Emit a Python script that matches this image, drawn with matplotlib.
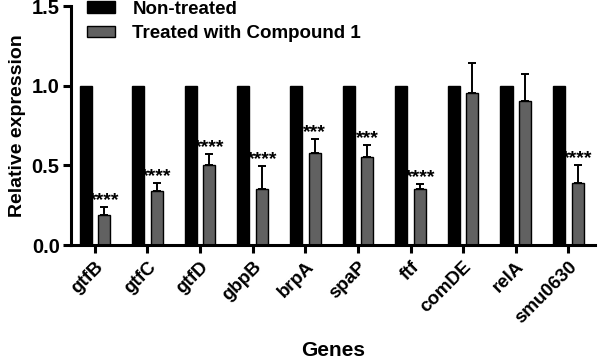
import matplotlib
matplotlib.use("Agg")
import matplotlib.pyplot as plt
import numpy as np

plt.rcParams['font.family'] = ['Liberation Sans', 'DejaVu Sans']
plt.rcParams['font.weight'] = 'bold'

genes = ['gtfB', 'gtfC', 'gtfD', 'gbpB', 'brpA', 'spaP', 'ftf', 'comDE', 'relA', 'smu0630']
non_treated = [1.0, 1.0, 1.0, 1.0, 1.0, 1.0, 1.0, 1.0, 1.0, 1.0]
treated = [0.19, 0.34, 0.50, 0.355, 0.577, 0.556, 0.355, 0.954, 0.906, 0.39]
treated_err = [0.05, 0.05, 0.07, 0.14, 0.09, 0.07, 0.03, 0.19, 0.17, 0.115]
stars = ['****', '****', '****', '****', '***', '***', '****', '', '', '****']

x = np.arange(len(genes))
w = 0.23
off = 0.176

fig = plt.figure(figsize=(6, 3.6), dpi=100)
ax = fig.add_axes([0.118, 0.319, 0.874, 0.664])

ax.bar(x - off, non_treated, w, color='black', edgecolor='black', label='Non-treated')
ax.bar(x + off, treated, w, color='#616161', edgecolor='black', linewidth=1,
       label='Treated with Compound 1')
ax.errorbar(x + off, treated, yerr=[np.zeros(len(treated)), treated_err], fmt='none',
            ecolor='black', elinewidth=1.4, capsize=3, capthick=1.4)

# significance stars just above each error bar
for xi, t, e, s in zip(x, treated, treated_err, stars):
    if s:
        ax.text(xi + off, t + e + 0.012, s, ha='center', va='baseline', fontsize=14,
                fontweight='bold')

ax.set_xlim(-0.457, len(genes) - 1 + 0.51)
ax.set_ylim(0, 1.5)
ax.set_yticks([0.0, 0.5, 1.0, 1.5])
ax.set_yticklabels(['0.0', '0.5', '1.0', '1.5'])
ax.set_xticks(x)
ax.set_xticklabels(genes, rotation=45, ha='right', rotation_mode='anchor')

for sp in ['top', 'right']:
    ax.spines[sp].set_visible(False)
for sp in ['left', 'bottom']:
    ax.spines[sp].set_linewidth(2.2)
ax.tick_params(axis='both', width=2.2, length=6)
ax.tick_params(axis='y', pad=2, labelsize=14.5)
ax.tick_params(axis='x', labelsize=13.5)

ax.set_ylabel('Relative expression', fontsize=14, fontweight='bold', labelpad=4)
ax.set_xlabel('Genes', fontsize=15, fontweight='bold')
ax.xaxis.set_label_coords(0.5, -0.465)
ax.xaxis.label.set_verticalalignment('baseline')

ax.legend(loc='upper left', bbox_to_anchor=(0.01, 1.07), frameon=False, fontsize=13.5,
          handlelength=1.5, handleheight=0.6, handletextpad=0.9, labelspacing=0.4,
          borderaxespad=0.2)

fig.savefig('out.png', dpi=100)
